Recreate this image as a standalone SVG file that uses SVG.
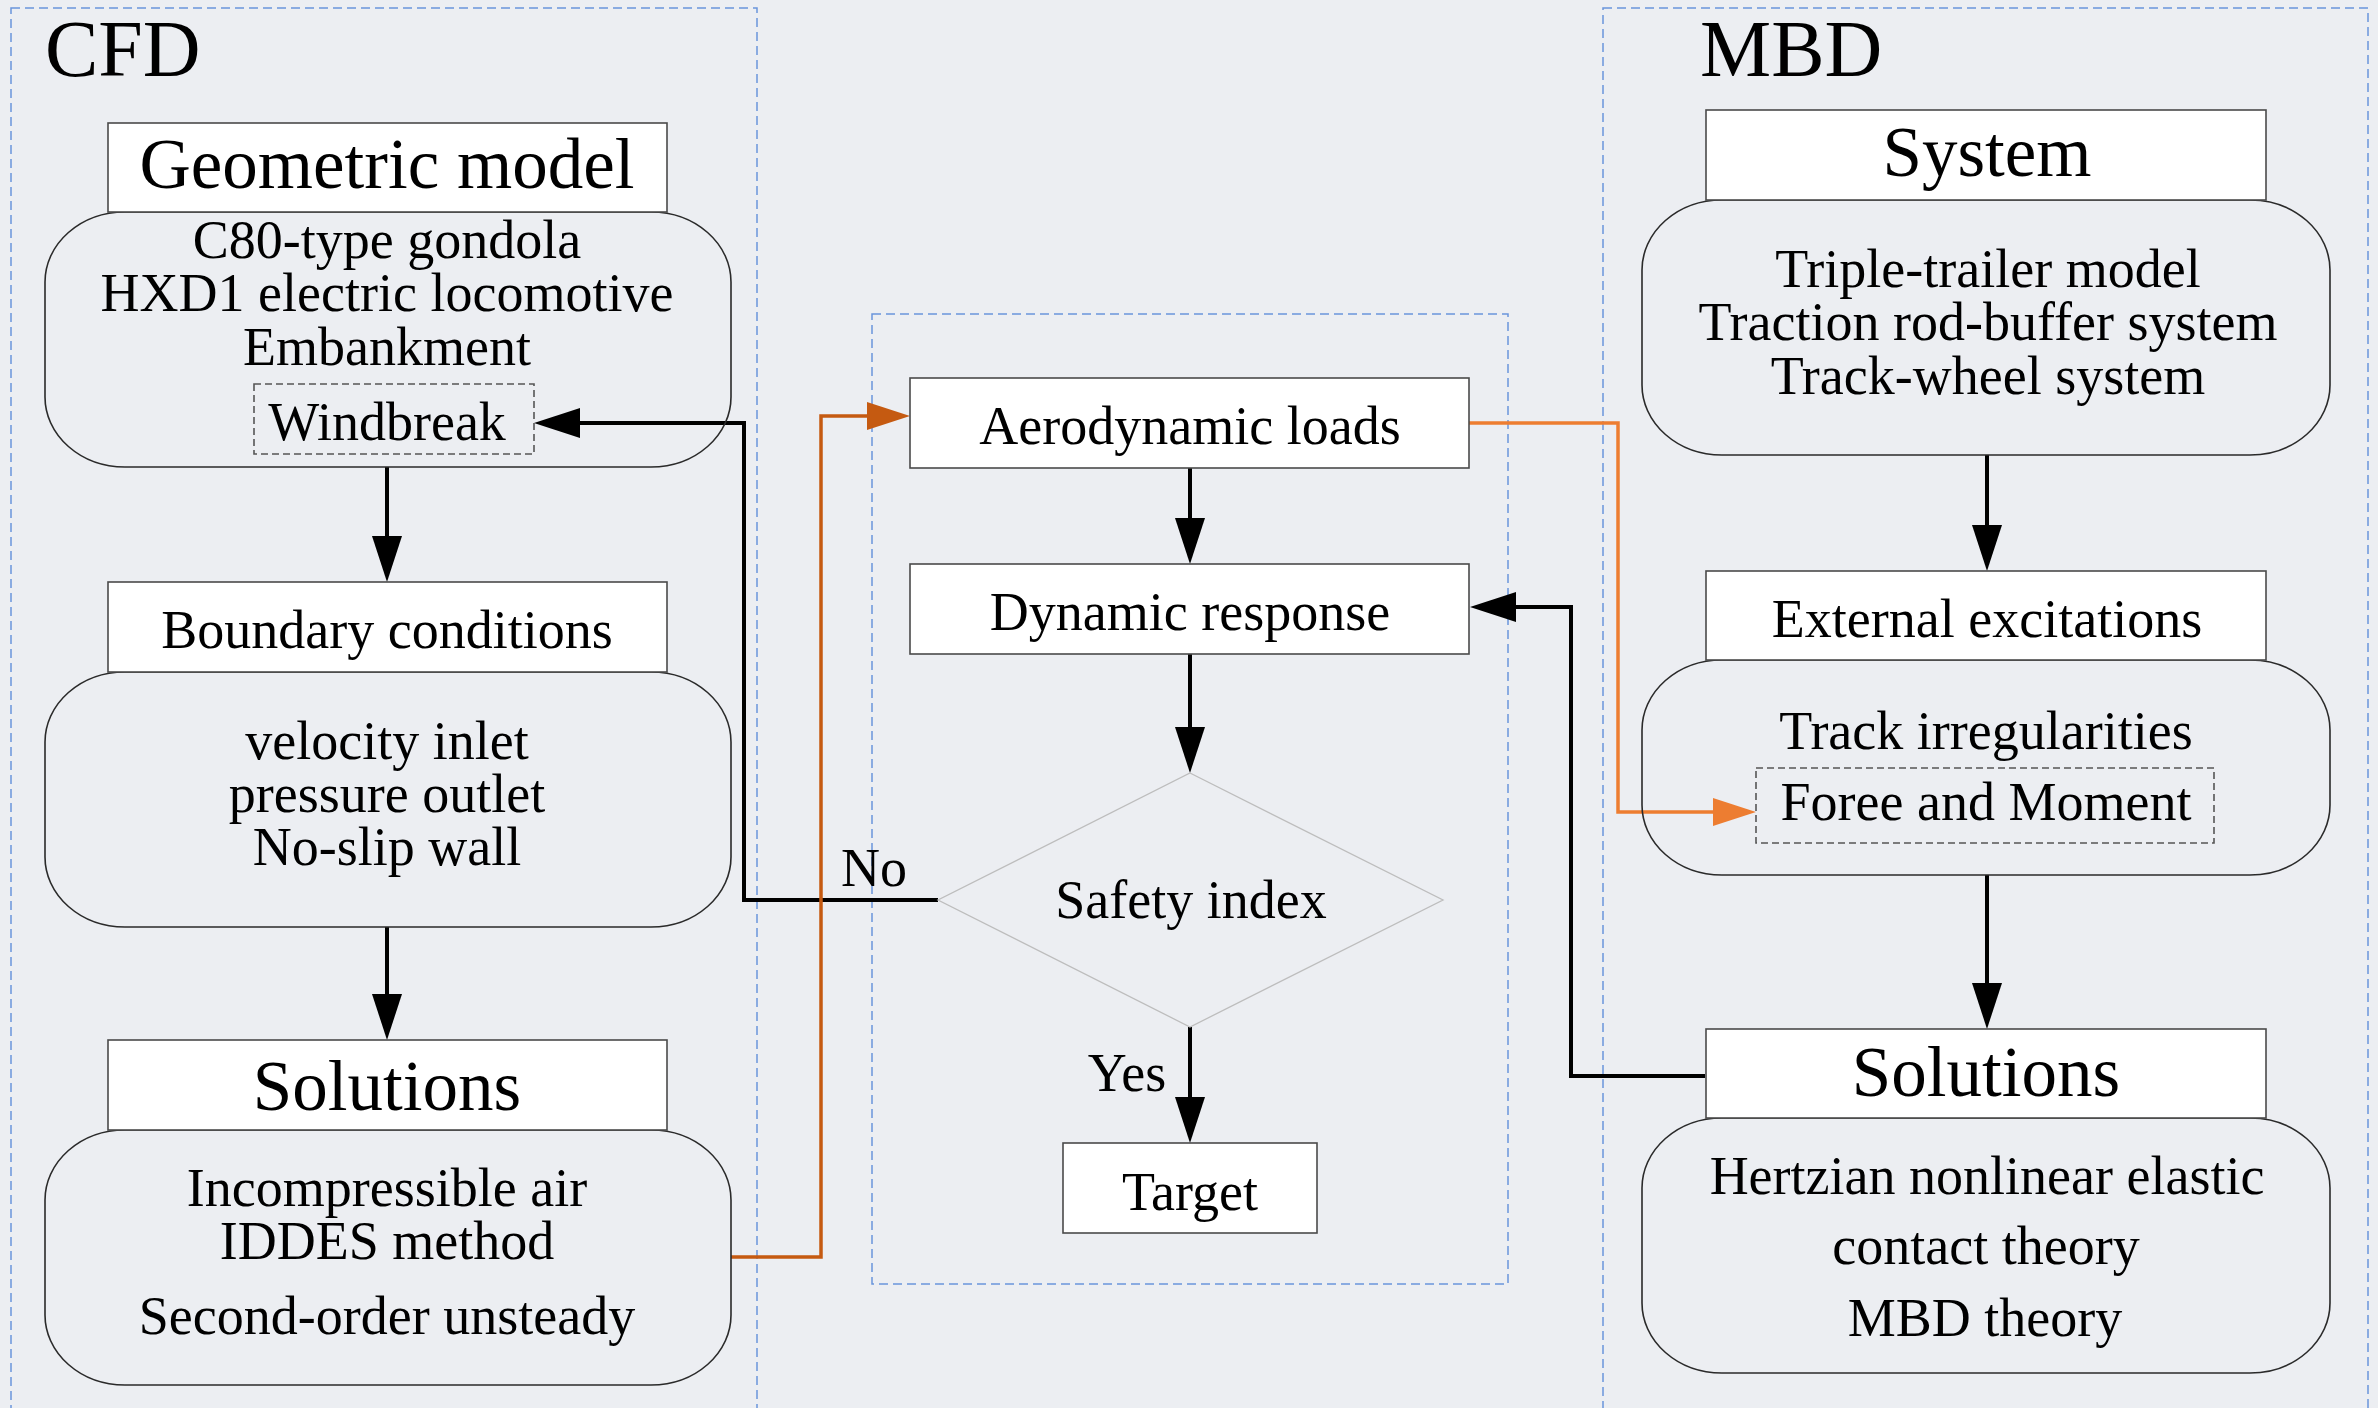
<svg xmlns="http://www.w3.org/2000/svg" width="2378" height="1408" viewBox="0 0 2378 1408">
<defs>
<style>
.bg{fill:#eceef2}
.cont{fill:none;stroke:#6a95dc;stroke-width:1.5;stroke-dasharray:9,5}
.box{fill:#ffffff;stroke:#4a4a4a;stroke-width:1.6}
.rbox{fill:none;stroke:#2a2a2a;stroke-width:1.6}
.dbox{fill:none;stroke:#555555;stroke-width:1.6;stroke-dasharray:7,4}
.dia{fill:none;stroke:#bdbdbd;stroke-width:1.3}
text{font-family:"Liberation Serif","Times New Roman",serif;fill:#000;text-anchor:middle}
.big{font-size:80px;text-anchor:start}
.ttl{font-size:71px}
.t{font-size:54px}
.blk{fill:none;stroke:#000;stroke-width:4}
.or1{fill:none;stroke:#c55a11;stroke-width:3.5}
.or2{fill:none;stroke:#ed7d31;stroke-width:3.5}
</style>
<marker id="ab" markerUnits="userSpaceOnUse" markerWidth="46" markerHeight="30" refX="36" refY="15" orient="auto">
<path d="M0,0 L46,15 L0,30 Z" fill="#000"/>
</marker>
<marker id="ao1" markerUnits="userSpaceOnUse" markerWidth="43" markerHeight="28" refX="33" refY="14" orient="auto">
<path d="M0,0 L43,14 L0,28 Z" fill="#c55a11"/>
</marker>
<marker id="ao2" markerUnits="userSpaceOnUse" markerWidth="43" markerHeight="28" refX="33" refY="14" orient="auto">
<path d="M0,0 L43,14 L0,28 Z" fill="#ed7d31"/>
</marker>
</defs>
<rect class="bg" x="0" y="0" width="2378" height="1408"/>

<g id="containers">
<rect id="cfd-container" class="cont" x="11" y="8" width="746" height="1420"/>
<rect id="center-container" class="cont" x="872" y="314" width="636" height="970"/>
<rect id="mbd-container" class="cont" x="1603" y="8" width="765" height="1420"/>
<text class="big" x="45" y="76">CFD</text>
<text class="big" x="1700" y="76">MBD</text>
</g>

<g id="connectors">
<path class="blk" d="M387,467 V572" marker-end="url(#ab)"/>
<path class="blk" d="M387,927 V1030" marker-end="url(#ab)"/>
<path class="blk" d="M1190,468 V554" marker-end="url(#ab)"/>
<path class="blk" d="M1190,654 V763" marker-end="url(#ab)"/>
<path class="blk" d="M1190,1027 V1133" marker-end="url(#ab)"/>
<path class="blk" d="M1987,455 V561" marker-end="url(#ab)"/>
<path class="blk" d="M1987,875 V1019" marker-end="url(#ab)"/>
<path class="blk" d="M938,900 H744 V423 H544" marker-end="url(#ab)"/>
<path class="blk" d="M1705,1076 H1571 V607 H1480" marker-end="url(#ab)"/>
<path class="or1" d="M731,1257 H821 V416 H900" marker-end="url(#ao1)"/>
<path class="or2" d="M1469,423 H1618 V812 H1746" marker-end="url(#ao2)"/>
<text class="t" x="874" y="886">No</text>
<text class="t" x="1127" y="1091">Yes</text>
</g>

<g id="geometric-model">
<rect class="rbox" x="45" y="212" width="686" height="255" rx="80" ry="70"/>
<rect class="box" x="108" y="123" width="559" height="89"/>
<text class="ttl" x="387" y="188">Geometric model</text>
<text class="t" x="387" y="258">C80-type gondola</text>
<text class="t" x="387" y="311">HXD1 electric locomotive</text>
<text class="t" x="387" y="365">Embankment</text>
<rect class="dbox" x="254" y="384" width="280" height="70"/>
<text class="t" x="387" y="440">Windbreak</text>
</g>

<g id="boundary-conditions">
<rect class="rbox" x="45" y="672" width="686" height="255" rx="80" ry="70"/>
<rect class="box" x="108" y="582" width="559" height="90"/>
<text class="t" x="387" y="648">Boundary conditions</text>
<text class="t" x="387" y="759">velocity inlet</text>
<text class="t" x="387" y="812">pressure outlet</text>
<text class="t" x="387" y="865">No-slip wall</text>
</g>

<g id="cfd-solutions">
<rect class="rbox" x="45" y="1130" width="686" height="255" rx="80" ry="70"/>
<rect class="box" x="108" y="1040" width="559" height="90"/>
<text class="ttl" x="387" y="1110">Solutions</text>
<text class="t" x="387" y="1206">Incompressible air</text>
<text class="t" x="387" y="1259">IDDES method</text>
<text class="t" x="387" y="1334">Second-order unsteady</text>
</g>

<g id="aerodynamic-loads">
<rect class="box" x="910" y="378" width="559" height="90"/>
<text class="t" x="1190" y="444">Aerodynamic loads</text>
</g>

<g id="dynamic-response">
<rect class="box" x="910" y="564" width="559" height="90"/>
<text class="t" x="1190" y="630">Dynamic response</text>
</g>

<g id="safety-index">
<path class="dia" d="M1190,773 L1443,900 L1190,1027 L938,900 Z"/>
<text class="t" x="1191" y="918">Safety index</text>
</g>

<g id="target">
<rect class="box" x="1063" y="1143" width="254" height="90"/>
<text class="t" x="1190" y="1210">Target</text>
</g>

<g id="system">
<rect class="rbox" x="1642" y="200" width="688" height="255" rx="80" ry="70"/>
<rect class="box" x="1706" y="110" width="560" height="90"/>
<text class="ttl" x="1987" y="176">System</text>
<text class="t" x="1988" y="287">Triple-trailer model</text>
<text class="t" x="1988" y="340">Traction rod-buffer system</text>
<text class="t" x="1988" y="394">Track-wheel system</text>
</g>

<g id="external-excitations">
<rect class="rbox" x="1642" y="660" width="688" height="215" rx="80" ry="70"/>
<rect class="box" x="1706" y="571" width="560" height="89"/>
<text class="t" x="1987" y="637">External excitations</text>
<text class="t" x="1986" y="749">Track irregularities</text>
<rect class="dbox" x="1756" y="768" width="458" height="75"/>
<text class="t" x="1986" y="820">Foree and Moment</text>
</g>

<g id="mbd-solutions">
<rect class="rbox" x="1642" y="1118" width="688" height="255" rx="80" ry="70"/>
<rect class="box" x="1706" y="1029" width="560" height="89"/>
<text class="ttl" x="1986" y="1096">Solutions</text>
<text class="t" x="1987" y="1194">Hertzian nonlinear elastic</text>
<text class="t" x="1986" y="1264">contact theory</text>
<text class="t" x="1985" y="1336">MBD theory</text>
</g>
</svg>
